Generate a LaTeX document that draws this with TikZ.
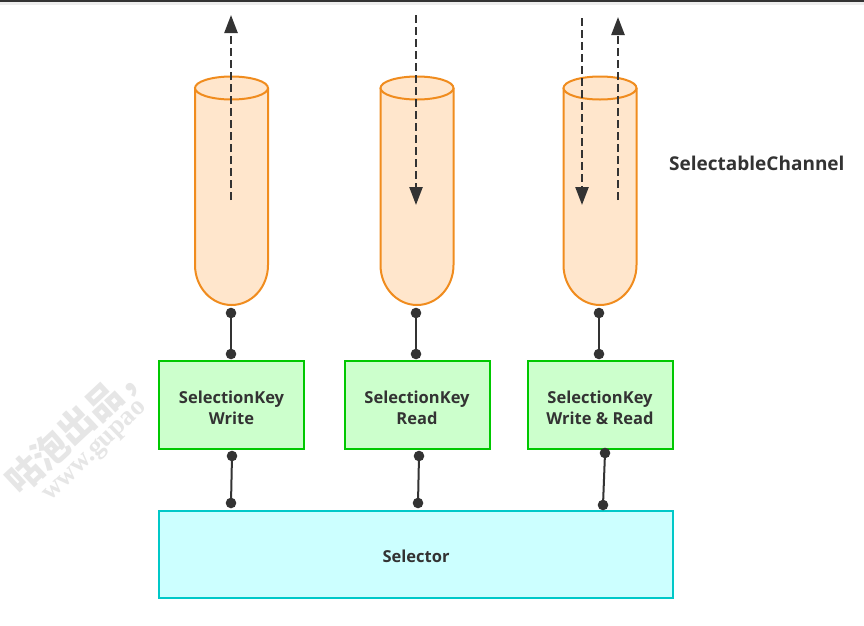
\documentclass[tikz,border=0pt]{standalone}
\usepackage{fontspec}
\setmainfont{Open Sans}
\newfontfamily\cjkwm{Noto Sans CJK SC}
\newfontfamily\wmserif{Liberation Serif}
\usetikzlibrary{arrows.meta}
\definecolor{txt}{RGB}{51,51,51}
\definecolor{cylline}{RGB}{240,140,30}
\definecolor{cylfill}{RGB}{255,230,204}
\definecolor{keyline}{RGB}{0,200,0}
\definecolor{keyfill}{RGB}{204,255,204}
\definecolor{selline}{RGB}{0,200,200}
\definecolor{selfill}{RGB}{204,255,255}
\definecolor{wm}{RGB}{230,230,230}
\tikzset{
  cyl/.style={draw=cylline, fill=cylfill, line width=2pt},
  keybox/.style={draw=keyline, fill=keyfill, line width=2pt, minimum width=145pt, minimum height=88pt},
  keylbl/.style={align=center, text=txt, inner sep=0pt, font=\fontsize{16.5}{21}\selectfont\bfseries},
  selbox/.style={draw=selline, fill=selfill, line width=2pt, minimum width=514pt, minimum height=87pt},
  flow/.style={draw=txt, line width=2.4pt, dash pattern=on 8pt off 4pt, -{Triangle[length=18pt,width=13pt,fill=txt]}},
  conn/.style={draw=txt, line width=2pt},
  dotc/.style={fill=txt},
  lbl/.style={text=txt, font=\fontsize{16.5}{21}\selectfont\bfseries, inner sep=0pt}
}
\begin{document}
\begin{tikzpicture}[x=1pt,y=-1pt]
\useasboundingbox (0,0) rectangle (864,625);
\fill[white] (0,0) rectangle (864,625);
\fill[black!7] (0,0) rectangle (864,5);
\fill[txt] (0,0) rectangle (864,2);

% watermark
\begin{scope}
\clip (0,300) rectangle (147,625);
\node[wm, rotate=43, anchor=base west, inner sep=0pt, font=\cjkwm\fontsize{36}{36}\selectfont\bfseries] (wm1) at (20,497) {咕泡出品，};
\node[wm, rotate=44, anchor=base west, inner sep=0pt, font=\wmserif\fontsize{27}{27}\selectfont\bfseries] (wm2) at (50,502) {www.gupao};
\end{scope}

% cylinders
\foreach \cx/\nm in {231.5/c1, 417/c2, 600/c3}{
  \draw[cyl] (\cx-36.5,88) -- (\cx-36.5,265) arc[start angle=180, end angle=0, x radius=36.5, y radius=40] -- (\cx+36.5,88);
  \draw[cyl] (\cx,88) ellipse [x radius=36.5, y radius=11.5];
  \coordinate (\nm) at (\cx,305);
}

% flows
\coordinate (f1s) at (231,200); \coordinate (f1e) at (231,15);
\coordinate (f2s) at (416,15);  \coordinate (f2e) at (416,205);
\coordinate (f3s) at (582,18);  \coordinate (f3e) at (582,205);
\coordinate (f4s) at (618,200); \coordinate (f4e) at (618,17);
\draw[flow] (f1s) -- (f1e);
\draw[flow] (f2s) -- (f2e);
\draw[flow] (f3s) -- (f3e);
\draw[flow] (f4s) -- (f4e);

\node[lbl, anchor=west, font=\fontsize{19}{23}\selectfont\bfseries] (sc) at (669,163) {SelectableChannel};

% keys
\node[keybox] (k1) at (231.5,405) {};
\node[keybox] (k2) at (417,405) {};
\node[keybox] (k3) at (600,405) {};
\node[keylbl] (k1t) at (231.5,408) {SelectionKey\\Write};
\node[keylbl] (k2t) at (417,408) {SelectionKey\\Read};
\node[keylbl] (k3t) at (600,408) {SelectionKey\\Write \& Read};

\node[selbox] (sel) at (416,554.5) {};
\node[lbl] (selt) at (416,556.5) {Selector};

% connectors
\foreach \a/\b/\ax/\ay/\bx/\by in {u1/v1/231/313/231/354, u2/v2/416/313/416/354, u3/v3/599/313/599/354, p1/q1/232/456/231/503, p2/q2/419/456/418/503, p3/q3/605/453/603/505}{
  \coordinate (\a) at (\ax,\ay);
  \coordinate (\b) at (\bx,\by);
  \draw[conn] (\a) -- (\b);
  \fill[dotc] (\a) circle (5.3);
  \fill[dotc] (\b) circle (5.3);
}
\end{tikzpicture}
\end{document}
